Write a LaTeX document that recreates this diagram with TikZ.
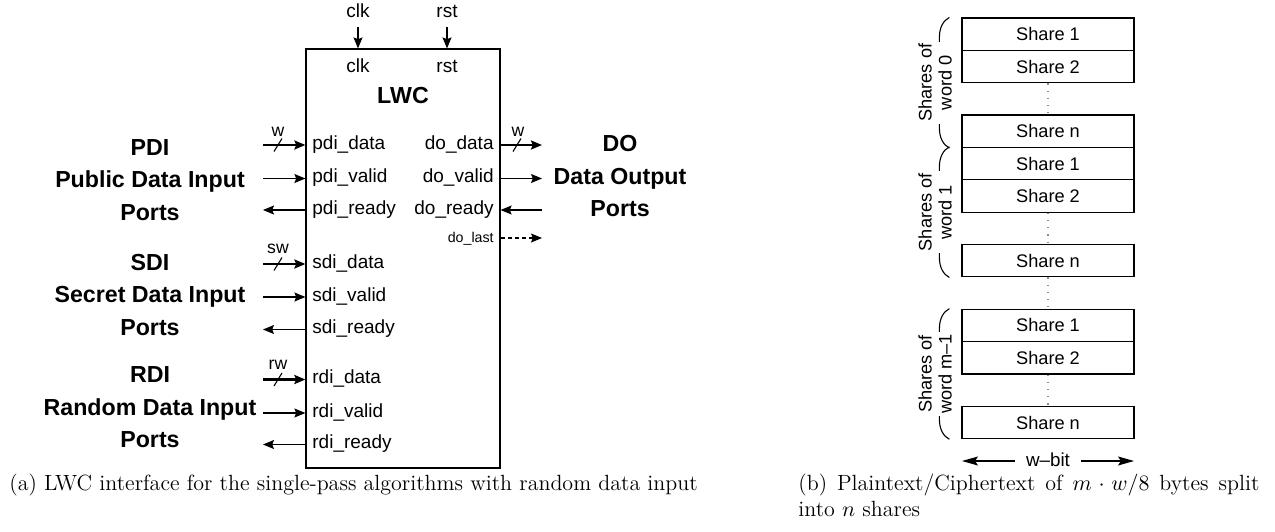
\documentclass[tikz,border=0pt]{standalone}
\usepackage{fontspec}
\newfontfamily\arial{Liberation Sans}
\usetikzlibrary{arrows.meta,decorations.pathreplacing}

% small diagonal cut marking a multi-bit bus
\newcommand\buscut[1]{\draw[cutmark] ([shift={(-4,6.5)}]#1) -- ([shift={(4,-6.5)}]#1);}

\begin{document}
\begin{tikzpicture}[x=0.5pt,y=-0.5pt,
  port/.style={font=\arial\fontsize{9.5}{11}\selectfont, inner sep=0pt},
  portsmall/.style={font=\arial\fontsize{7.1}{8}\selectfont, inner sep=0pt},
  wlabel/.style={font=\arial\fontsize{8.8}{10}\selectfont, inner sep=0pt},
  big/.style={font=\arial\bfseries\fontsize{11.6}{13}\selectfont, inner sep=0pt, anchor=mid},
  lwcbox/.style={draw, line width=0.6pt, minimum width=97pt, minimum height=209.5pt, inner sep=0pt},
  tip/.tip={Stealth[length=5.5pt,width=4.5pt,inset=0.9pt]},
  wire/.style={line width=0.55pt, -tip},
  bus/.style={line width=1.1pt, -tip},
  optwire/.style={line width=0.55pt, -tip, dash pattern=on 2pt off 1.6pt},
  cutmark/.style={line width=0.55pt},
  share/.style={draw, line width=0.6pt, minimum width=86pt, minimum height=16.18pt, inner sep=0pt,
                font=\arial\fontsize{9.1}{10}\selectfont},
  gap/.style={draw=black!45, line width=0.6pt, dash pattern=on 0.6pt off 3pt},
  brc/.style={line width=0.55pt, decorate, decoration={brace, amplitude=10pt}},
  grp/.style={rotate=90, fill=white, align=center, inner xsep=1pt, inner ysep=0.5pt,
              font=\arial\fontsize{9.1}{10}\selectfont},
  wide/.tip={Stealth[length=8pt,width=4.5pt,inset=1.5pt]},
  caption/.style={font=\fontsize{11}{13.2}\selectfont, inner sep=0pt, anchor=base west}]

\useasboundingbox (0,0) rectangle (1275,531);

% ---------------- LWC core ----------------
\node[lwcbox] (lwc) at (403,258.5) {};
\node[font=\arial\bfseries\fontsize{11.6}{13}\selectfont, inner sep=0pt, anchor=base] (lwcname) at (403,103) {LWC};

% clock and reset
\node[port, anchor=base] (clkext) at (358,17) {clk};
\node[port, anchor=base] (rstext) at (447,17) {rst};
\node[port, anchor=base] (clkint) at (358,72) {clk};
\node[port, anchor=base] (rstint) at (447,72) {rst};
\coordinate (clkin) at (358,27);
\coordinate (rstin) at (447,27);
\draw[wire] (clkin) -- (clkin |- lwc.north);
\draw[wire] (rstin) -- (rstin |- lwc.north);

% port names inside the core
\node[port, anchor=mid west] (pdidata)  at (312,145)   {pdi\_data};
\node[port, anchor=mid west] (pdivalid) at (312,178.5) {pdi\_valid};
\node[port, anchor=mid west] (pdiready) at (312,210)   {pdi\_ready};
\node[port, anchor=mid west] (sdidata)  at (312,264)   {sdi\_data};
\node[port, anchor=mid west] (sdivalid) at (312,297)   {sdi\_valid};
\node[port, anchor=mid west] (sdiready) at (312,329.5) {sdi\_ready};
\node[port, anchor=mid west] (rdidata)  at (312,379.5) {rdi\_data};
\node[port, anchor=mid west] (rdivalid) at (312,413)   {rdi\_valid};
\node[port, anchor=mid west] (rdiready) at (312,444.5) {rdi\_ready};
\node[port, anchor=mid east] (dodata)  at (494,145)   {do\_data};
\node[port, anchor=mid east] (dovalid) at (494,178.5) {do\_valid};
\node[port, anchor=mid east] (doready) at (494,210)   {do\_ready};
\node[portsmall, anchor=mid east] (dolast) at (494,238) {do\_last};

% outer ends of the port wires
\coordinate (pdidataE)  at (263,145);
\coordinate (pdivalidE) at (263,178.5);
\coordinate (pdireadyE) at (263,210);
\coordinate (sdidataE)  at (263,264);
\coordinate (sdivalidE) at (263,297);
\coordinate (sdireadyE) at (263,329.5);
\coordinate (rdidataE)  at (263,379.5);
\coordinate (rdivalidE) at (263,413);
\coordinate (rdireadyE) at (263,444.5);
\coordinate (dodataE)  at (542,145);
\coordinate (dovalidE) at (542,178.5);
\coordinate (doreadyE) at (542,210);
\coordinate (dolastE)  at (542,238);

% public data input
\draw[bus]  (pdidataE) -- (lwc.west |- pdidataE);
\draw[wire] (pdivalidE) -- (lwc.west |- pdivalidE);
\draw[wire] (lwc.west |- pdireadyE) -- (pdireadyE);
% secret data input
\draw[bus]  (sdidataE) -- (lwc.west |- sdidataE);
\draw[wire] (sdivalidE) -- (lwc.west |- sdivalidE);
\draw[wire] (lwc.west |- sdireadyE) -- (sdireadyE);
% random data input
\draw[bus]  (rdidataE) -- (lwc.west |- rdidataE);
\draw[wire] (rdivalidE) -- (lwc.west |- rdivalidE);
\draw[wire] (lwc.west |- rdireadyE) -- (rdireadyE);
% data output
\draw[bus]  (lwc.east |- dodataE) -- (dodataE);
\draw[wire] (lwc.east |- dovalidE) -- (dovalidE);
\draw[wire] (doreadyE) -- (lwc.east |- doreadyE);
\draw[optwire] (lwc.east |- dolastE) -- (dolastE);

% bus width marks
\coordinate (pdicut) at (278,145);
\coordinate (sdicut) at (278,264);
\coordinate (rdicut) at (278,379.5);
\coordinate (docut)  at (517,145);
\buscut{pdicut}
\buscut{sdicut}
\buscut{rdicut}
\buscut{docut}
\node[wlabel, anchor=base] (pdiw) at (278,136) {w};
\node[wlabel, anchor=base] (sdiw) at (278,253) {sw};
\node[wlabel, anchor=base] (rdiw) at (278,369) {rw};
\node[wlabel, anchor=base] (dow)  at (518,136) {w};

% interface group titles
\node[big] (pdit1) at (150,150.7) {PDI};
\node[big] (pdit2) at (150,183.3) {Public Data Input};
\node[big] (pdit3) at (150,215.7) {Ports};
\node[big] (sdit1) at (150,265.7) {SDI};
\node[big] (sdit2) at (150,298)   {Secret Data Input};
\node[big] (sdit3) at (150,330.7) {Ports};
\node[big] (rdit1) at (150,378.3) {RDI};
\node[big] (rdit2) at (150,411.3) {Random Data Input};
\node[big] (rdit3) at (150,443)   {Ports};
\node[big] (dot1) at (620,147.3) {DO};
\node[big] (dot2) at (620,180)   {Data Output};
\node[big] (dot3) at (620,212)   {Ports};

% ---------------- share layout ----------------
\node[share] (s01) at (1048,34.18)  {Share 1};
\node[share] (s02) at (1048,66.54)  {Share 2};
\node[share] (s0n) at (1048,131.26) {Share n};
\node[share] (s11) at (1048,163.62) {Share 1};
\node[share] (s12) at (1048,195.98) {Share 2};
\node[share] (s1n) at (1048,260.70) {Share n};
\node[share] (sm1) at (1048,325.42) {Share 1};
\node[share] (sm2) at (1048,357.78) {Share 2};
\node[share] (smn) at (1048,422.50) {Share n};

\draw[gap] (s02.south) -- (s0n.north);
\draw[gap] (s12.south) -- (s1n.north);
\draw[gap] (s1n.south) -- (sm1.north);
\draw[gap] (sm2.south) -- (smn.north);

\draw[brc] ([xshift=-6pt]s0n.south west) -- ([xshift=-6pt]s01.north west);
\draw[brc] ([xshift=-6pt]s1n.south west) -- ([xshift=-6pt]s11.north west);
\draw[brc] ([xshift=-6pt]smn.south west) -- ([xshift=-6pt]sm1.north west);
\node[grp] (g0) at (935,82.7) {Shares of\\word 0};
\node[grp] (g1) at (935,212.2) {Shares of\\word 1};
\node[grp] (gm) at (935,374) {Shares of\\word m\textendash 1};

% word width
\coordinate (wl) at (962,461);
\coordinate (wr) at (1134,461);
\node[font=\arial\fontsize{9.4}{11}\selectfont, inner xsep=5.5pt, inner ysep=0pt, anchor=mid] (wbit) at (1048,462) {w\textendash bit};
\draw[line width=0.55pt, -wide] (wbit.west |- wl) -- (wl);
\draw[line width=0.55pt, -wide] (wbit.east |- wr) -- (wr);

% ---------------- captions ----------------
\node[caption] (capa) at (9,490) {(a) LWC interface for the single-pass algorithms with random data input};
\node[caption] (capb) at (798,490) {\makebox[230.5pt][s]{(b) Plaintext/Ciphertext of $m\cdot w/8$ bytes split}};
\node[caption] (capc) at (798,516.4) {into $n$ shares};
\end{tikzpicture}
\end{document}
